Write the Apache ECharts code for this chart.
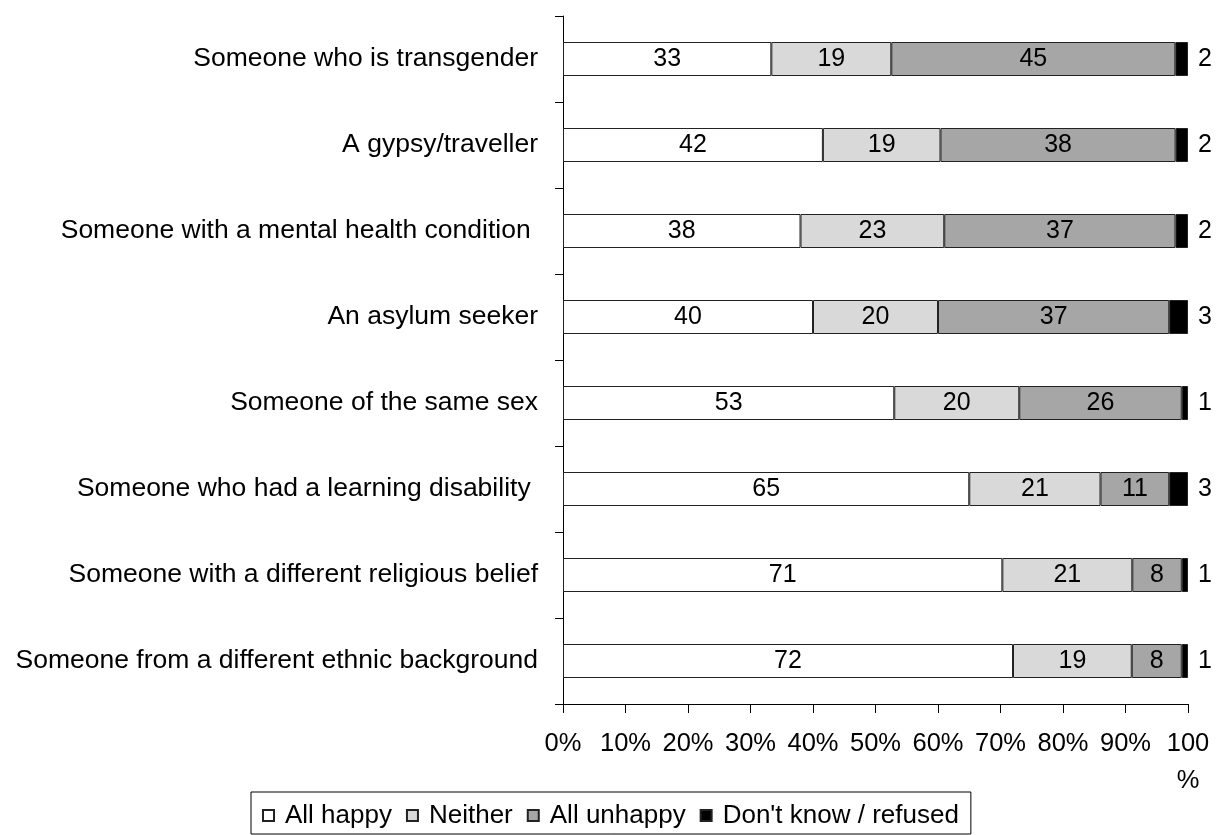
<!DOCTYPE html>
<html>
<head>
<meta charset="utf-8">
<script src="https://cdn.jsdelivr.net/npm/echarts@6.0.0/dist/echarts.min.js"></script>
<style>
  html, body { margin: 0; padding: 0; background: #fff; }
  #chart { width: 1219px; height: 835px; }
</style>
</head>
<body>
<div id="chart"></div>
<script>
const categories = [
  'Someone who is transgender',
  'A gypsy/traveller',
  'Someone with a mental health condition ',
  'An asylum seeker',
  'Someone of the same sex',
  'Someone who had a learning disability ',
  'Someone with a different religious belief',
  'Someone from a different ethnic background'
]
const allHappy = [33, 42, 38, 40, 53, 65, 71, 72]
const neither = [19, 19, 23, 20, 20, 21, 21, 19]
const allUnhappy = [45, 38, 37, 37, 26, 11, 8, 8]
const dontKnow = [2, 2, 2, 3, 1, 3, 1, 1]
const xTicks = [0, 10, 20, 30, 40, 50, 60, 70, 80, 90, 100]

const FONT = "'Liberation Sans', Arial, sans-serif"

// 100% stacked: each row is scaled to its own total
const totals = categories.map((c, i) => allHappy[i] + neither[i] + allUnhappy[i] + dontKnow[i])
const share = (arr) => arr.map((v, i) => (v / totals[i]) * 100)

const makeSeries = (name, raw, color, labelPos) => ({
  name,
  type: 'bar',
  stack: 'all',
  barWidth: 34,
  data: share(raw),
  itemStyle: { color, borderColor: '#222', borderWidth: 1 },
  label: {
    show: true,
    position: labelPos,
    distance: 10,
    color: '#000',
    fontFamily: FONT,
    fontSize: 25,
    formatter: (p) => String(raw[p.dataIndex])
  }
})

const chart = echarts.init(document.getElementById('chart'))
chart.setOption({
  animation: false,
  backgroundColor: '#fff',
  grid: { left: 563, right: 31, top: 16, bottom: 131, containLabel: false },
  legend: {
    left: 251,
    top: 792,
    orient: 'horizontal',
    borderColor: '#000',
    borderWidth: 1,
    padding: [10, 12, 5, 11],
    itemWidth: 11,
    itemHeight: 11,
    itemGap: 14,
    icon: 'rect',
    textStyle: { fontFamily: FONT, fontSize: 26, color: '#000', lineHeight: 27, padding: [0, 0, 0, 6] },
    data: ['All happy', 'Neither', 'All unhappy', "Don't know / refused"]
  },
  xAxis: {
    type: 'value',
    min: xTicks[0],
    max: xTicks[xTicks.length - 1],
    interval: 10,
    splitLine: { show: false },
    axisLine: { show: true, lineStyle: { color: '#000', width: 1 } },
    axisTick: { show: true, length: 9, lineStyle: { color: '#000' } },
    axisLabel: {
      margin: 21,
      fontFamily: FONT,
      fontSize: 25.5,
      lineHeight: 37,
      color: '#000',
      formatter: (v) => (v === 100 ? '100\n%' : v + '%')
    }
  },
  yAxis: {
    type: 'category',
    inverse: true,
    data: categories,
    axisLine: { show: true, lineStyle: { color: '#000', width: 1 } },
    axisTick: { show: true, length: 8, inside: false, lineStyle: { color: '#000' } },
    axisLabel: { margin: 25, fontFamily: FONT, fontSize: 26.5, color: '#000' }
  },
  series: [
    makeSeries('All happy', allHappy, '#ffffff', 'inside'),
    makeSeries('Neither', neither, '#d9d9d9', 'inside'),
    makeSeries('All unhappy', allUnhappy, '#a6a6a6', 'inside'),
    makeSeries("Don't know / refused", dontKnow, '#000000', 'right')
  ]
})
</script>
</body>
</html>
